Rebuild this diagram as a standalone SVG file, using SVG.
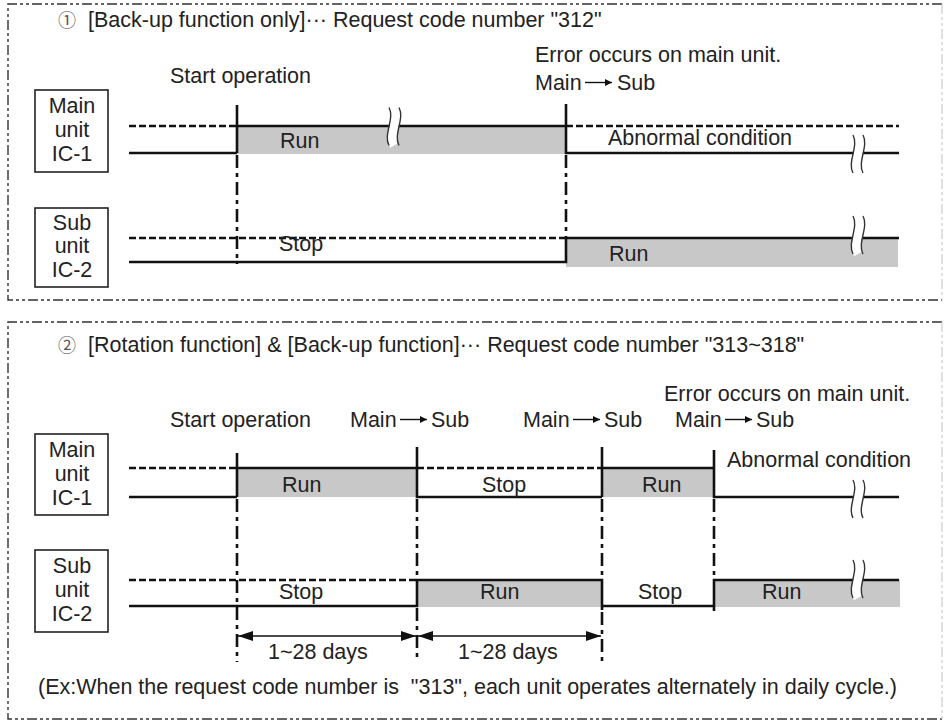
<svg xmlns="http://www.w3.org/2000/svg" width="945" height="721" viewBox="0 0 945 721">
<style>
text{font-family:"Liberation Sans","Noto Sans CJK JP",Arial,sans-serif;font-size:21.5px;fill:#222}
.c{text-anchor:middle}
.num{font-family:"Noto Sans CJK JP","DejaVu Sans",sans-serif;font-size:18px;fill:#555}
.frame{fill:none;stroke:#333;stroke-width:1.4;stroke-dasharray:10 3 3 3 3 3}
.frameR{fill:none;stroke:#ccc;stroke-width:1.2;stroke-dasharray:10 3 3 3 3 3}
.box{fill:#fff;stroke:#222;stroke-width:1.6}
.sol{fill:none;stroke:#111;stroke-width:2.6}
.dsh{fill:none;stroke:#111;stroke-width:2.4;stroke-dasharray:7 3}
.dd{fill:none;stroke:#111;stroke-width:2.6;stroke-dasharray:13 5 4 5}
.run{fill:#c8c8c8}
.brkw{fill:none;stroke:#fff;stroke-width:9}
.brkl{fill:none;stroke:#333;stroke-width:1.4}
.thin{fill:none;stroke:#111;stroke-width:1.4}
.dim{fill:none;stroke:#111;stroke-width:1.6}
</style>
<defs>
<g id="brk">
<path class="brkw" d="M0,-19 C6,-8 -6,8 0,19"/>
<path class="brkl" d="M-5,-19 C1,-8 -11,8 -5,19 M5,-19 C11,-8 -1,8 5,19"/>
</g>
<marker id="ah" markerUnits="userSpaceOnUse" markerWidth="16" markerHeight="10" refX="15" refY="5" orient="auto-start-reverse">
<path d="M0,0 L15,5 L0,10 Z" fill="#111"/>
</marker>
<marker id="sa" markerUnits="userSpaceOnUse" markerWidth="8" markerHeight="7" refX="7" refY="3.5" orient="auto">
<path d="M0,0 L7,3.5 L0,7 Z" fill="#111"/>
</marker>
</defs>

<!-- Panel 1 -->
<g id="panel1">
<path class="frame" d="M942,4 H8 V300 H942"/>
<path class="frameR" d="M942,4 V300"/>
<text x="58" y="27"><tspan class="num">①</tspan><tspan x="88">[Back-up function only]··· Request code number "312"</tspan></text>
</g>

<g id="p1-main-box">
<rect class="box" x="35" y="90" width="73" height="82"/>
<text class="c" x="72" y="113">Main</text>
<text class="c" x="72" y="137">unit</text>
<text class="c" x="72" y="161">IC-1</text>
</g>
<g id="p1-sub-box">
<rect class="box" x="35" y="208" width="73" height="79"/>
<text class="c" x="72" y="230">Sub</text>
<text class="c" x="72" y="253">unit</text>
<text class="c" x="72" y="277">IC-2</text>
</g>

<g id="p1-connectors">
<path class="thin" d="M585,82.5 H612" marker-end="url(#sa)"/>
<rect class="run" x="237" y="126" width="329" height="28"/>
<rect class="run" x="566" y="238" width="332" height="29"/>
<path class="dsh" d="M129,126 H237"/>
<path class="sol" d="M129,153 H237 M237,105 V153 M237,126 H566 M566,104 V153 H899"/>
<path class="dsh" d="M566,126 H899"/>
<path class="dsh" d="M129,238 H566"/>
<path class="sol" d="M129,262 H566 V238 H899"/>
<path class="dd" d="M237,155 V264 M566,155 V238"/>
<use href="#brk" transform="translate(394,126.5)"/>
<use href="#brk" transform="translate(858,154)"/>
<use href="#brk" transform="translate(858,235)"/>
</g>

<g id="p1-labels">
<text x="170" y="83">Start operation</text>
<text x="535" y="62">Error occurs on main unit.</text>
<text x="535" y="90">Main</text>
<text x="617" y="90">Sub</text>
<text x="280" y="148">Run</text>
<text x="608" y="145">Abnormal condition</text>
<text x="279" y="251">Stop</text>
<text x="609" y="261">Run</text>
</g>

<!-- Panel 2 -->
<g id="panel2">
<path class="frame" d="M942,322 H8 V719 H942"/>
<path class="frameR" d="M942,322 V719"/>
<text x="58" y="352"><tspan class="num">②</tspan><tspan x="88">[Rotation function] &amp; [Back-up function]··· Request code number "313~318"</tspan></text>
</g>

<g id="p2-main-box">
<rect class="box" x="35" y="434" width="73" height="81"/>
<text class="c" x="72" y="457">Main</text>
<text class="c" x="72" y="481">unit</text>
<text class="c" x="72" y="505">IC-1</text>
</g>
<g id="p2-sub-box">
<rect class="box" x="35" y="550" width="73" height="82"/>
<text class="c" x="72" y="573">Sub</text>
<text class="c" x="72" y="597">unit</text>
<text class="c" x="72" y="621">IC-2</text>
</g>

<g id="p2-connectors">
<path class="thin" d="M400,419.5 H427" marker-end="url(#sa)"/>
<path class="thin" d="M573,419.5 H600" marker-end="url(#sa)"/>
<path class="thin" d="M725,419.5 H752" marker-end="url(#sa)"/>
<rect class="run" x="237" y="468" width="180" height="29"/>
<rect class="run" x="602" y="468" width="112" height="29"/>
<rect class="run" x="417" y="580" width="185" height="27"/>
<rect class="run" x="714" y="580" width="186" height="27"/>
<path class="dsh" d="M129,468 H237 M417,468 H602"/>
<path class="sol" d="M129,497 H237 M237,453 V497 M237,468 H417 M417,447 V497 H602 M602,447 V497 M602,468 H714 M714,450 V497 H899"/>
<path class="dsh" d="M129,580 H417"/>
<path class="sol" d="M129,606 H417 V580 H602 V610 M602,606 H714 M714,611 V580 H899"/>
<path class="dd" d="M237,499 V662 M417,499 V580 M417,608 V662 M602,499 V580 M602,612 V662 M714,499 V580"/>
<path class="dim" d="M238,636 H416" marker-start="url(#ah)" marker-end="url(#ah)"/>
<path class="dim" d="M418,636 H601" marker-start="url(#ah)" marker-end="url(#ah)"/>
<use href="#brk" transform="translate(858,499)"/>
<use href="#brk" transform="translate(858,579)"/>
</g>

<g id="p2-labels">
<text x="664" y="401">Error occurs on main unit.</text>
<text x="170" y="427">Start operation</text>
<text x="350" y="427">Main</text>
<text x="431" y="427">Sub</text>
<text x="523" y="427">Main</text>
<text x="604" y="427">Sub</text>
<text x="675" y="427">Main</text>
<text x="756" y="427">Sub</text>
<text x="282" y="492">Run</text>
<text x="482" y="492">Stop</text>
<text x="642" y="492">Run</text>
<text x="727" y="467">Abnormal condition</text>
<text x="279" y="599">Stop</text>
<text x="480" y="599">Run</text>
<text x="638" y="599">Stop</text>
<text x="762" y="599">Run</text>
<text x="268" y="659">1~28 days</text>
<text x="458" y="659">1~28 days</text>
<text x="38" y="694" xml:space="preserve">(Ex:When the request code number is  "313", each unit operates alternately in daily cycle.)</text>
</g>
</svg>
